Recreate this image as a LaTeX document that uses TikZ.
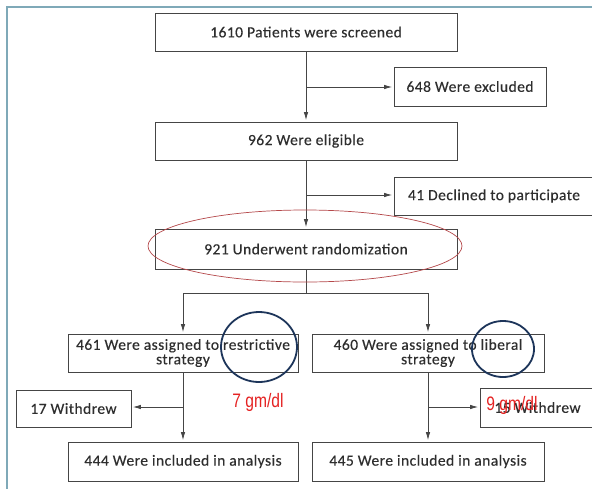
\documentclass[tikz,border=0pt]{standalone}
\usepackage{fontspec}
\setmainfont{Carlito}
\newfontfamily\boxfont[LetterSpace=3,FakeBold=0.3]{Carlito}
\newfontfamily\notefont{Liberation Sans}
\usetikzlibrary{arrows.meta}
\definecolor{framecol}{HTML}{7FA9B8}
\definecolor{boxline}{HTML}{454545}
\definecolor{boxtext}{HTML}{2E2E2E}
\definecolor{ringcol}{HTML}{1D355A}
\definecolor{ovalcol}{HTML}{B5484A}
\definecolor{notecol}{HTML}{E52222}
\tikzset{
  flowbox/.style={draw=boxline, line width=0.9pt, fill=white, inner sep=0pt,
    text=boxtext, align=center, font=\boxfont\fontsize{15.5}{14.5}\selectfont},
  arr/.style={draw=boxline, line width=0.8pt, -{Latex[length=8pt,width=4.5pt]}, shorten >=1.5pt},
  link/.style={draw=boxline, line width=0.8pt},
  ring/.style={draw=ringcol, line width=1.8pt},
  note/.style={text=notecol, inner sep=0pt, font=\notefont\fontsize{19.5}{19.5}\selectfont}
}
\begin{document}
\begin{tikzpicture}[x=1pt,y=-1pt]
\useasboundingbox (0,0) rectangle (592,488);
\clip (0,0) rectangle (592,488);
\fill[white] (0,0) rectangle (592,488);

% outer frame
\draw[framecol, line width=2pt] (7,490) -- (7,7) -- (594,7);

% flow boxes
\node[flowbox, minimum width=302pt, minimum height=38pt] (screened) at (306,32) {1610 Patients were screened};
\node[flowbox, minimum width=152pt, minimum height=39pt] (excluded) at (470,86.5) {648 Were excluded};
\node[flowbox, minimum width=302pt, minimum height=38pt] (eligible) at (306,141) {962 Were eligible};
\node[flowbox, minimum width=200pt, minimum height=38pt] (declined) at (494,196) {41 Declined to participate};
\node[flowbox, minimum width=302pt, minimum height=40pt] (random) at (306,249) {921 Underwent randomization};
\node[flowbox, minimum width=230pt, minimum height=38pt] (restr) at (183,353) {461 Were assigned to restrictive\\strategy};
\node[flowbox, minimum width=232pt, minimum height=38pt] (liber) at (428,353) {460 Were assigned to liberal\\strategy};
\node[flowbox, minimum width=115pt, minimum height=37pt] (wleft) at (73.5,408.5) {17 Withdrew};
\node[flowbox, minimum width=115pt, minimum height=39pt] (wright) at (537.5,407.5) {15 Withdrew};
\node[flowbox, minimum width=230pt, minimum height=39pt] (inleft) at (183,461.5) {444 Were included in analysis};
\node[flowbox, minimum width=232pt, minimum height=39pt] (inright) at (428,461.5) {445 Were included in analysis};

% branch points
\coordinate (j1) at (306,87);
\coordinate (j2) at (306,195);
\coordinate (split) at (306,293);
\coordinate (j3) at (183,407);
\coordinate (j4) at (428,407);

% connectors
\draw[arr] (screened.south) -- (eligible.north);
\draw[arr] (j1) -- (excluded.west |- j1);
\draw[arr] (eligible.south) -- (random.north);
\draw[arr] (j2) -- (declined.west |- j2);
\draw[link] (random.south) -- (split);
\draw[arr] (split) -| (restr.north);
\draw[arr] (split) -| (liber.north);
\draw[arr] (restr.south) -- (inleft.north);
\draw[arr] (j3) -- (wleft.east |- j3);
\draw[arr] (liber.south) -- (inright.north);
\draw[arr] (j4) -- (wright.west |- j4);

% hand-drawn highlights
\draw[ovalcol, line width=0.7pt] (305,246) ellipse [x radius=157pt, y radius=36pt];
\draw[ring] (259,347) ellipse [x radius=38pt, y radius=35pt];
\draw[ring] (503,349) ellipse [x radius=31pt, y radius=28pt];

% threshold notes
\node[note] (lownote) at (258,402) {\scalebox{0.8}[1]{7 gm/dl}};
\node[note] (highnote) at (512,405) {\scalebox{0.8}[1]{9 gm/dl}};
\end{tikzpicture}
\end{document}
